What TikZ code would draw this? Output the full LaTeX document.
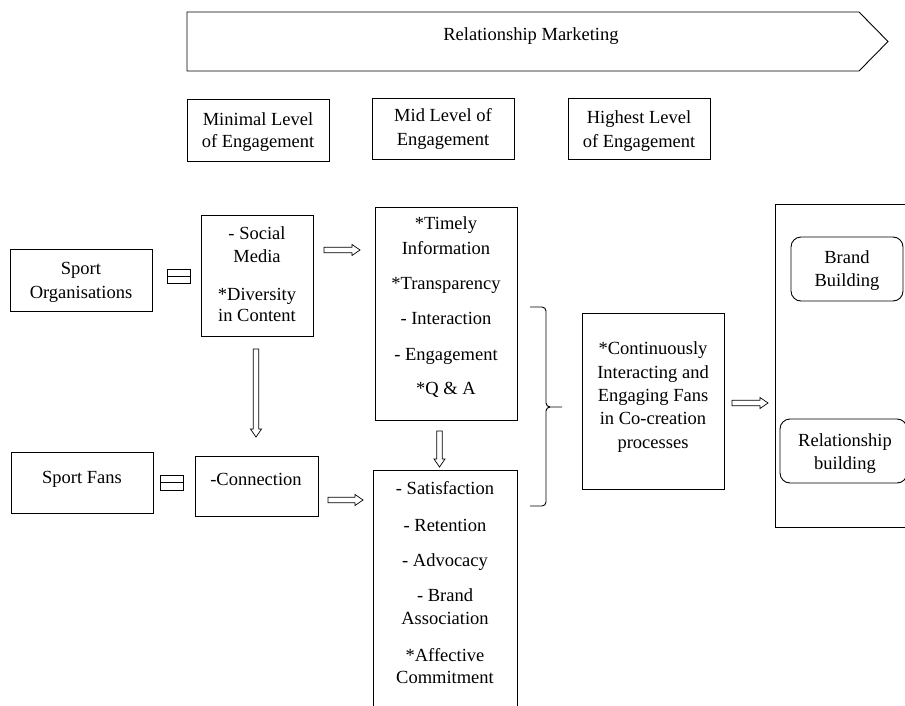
\documentclass[tikz,border=0pt]{standalone}
\usepackage{fontspec}
\setmainfont{Liberation Serif}
\usetikzlibrary{calc}
\tikzset{
  boxstyle/.style={draw, line width=0.9pt, inner sep=0pt, rectangle},
  roundbox/.style={draw, line width=0.9pt, inner sep=0pt, rectangle, rounded corners=10pt},
  linestyle/.style={line width=0.9pt},
  arrowline/.style={line width=0.7pt, line join=miter},
  txt/.style={anchor=base, inner sep=0pt, font=\fontsize{18.5}{22}\selectfont}
}
\newcommand{\blockR}[2]{\draw[arrowline] let \p1=(#1), \p2=(#2) in
  (\x1,{\y1+2.8pt}) -- ({\x2-8pt},{\y1+2.8pt}) -- ({\x2-8pt},{\y1+5.5pt}) -- (\x2,\y1)
  -- ({\x2-8pt},{\y1-5.5pt}) -- ({\x2-8pt},{\y1-2.8pt}) -- (\x1,{\y1-2.8pt}) -- cycle;}
\newcommand{\blockD}[2]{\draw[arrowline] let \p1=(#1), \p2=(#2) in
  ({\x1-2.8pt},\y1) -- ({\x1-2.8pt},{\y2+8pt}) -- ({\x1-5.5pt},{\y2+8pt}) -- (\x1,\y2)
  -- ({\x1+5.5pt},{\y2+8pt}) -- ({\x1+2.8pt},{\y2+8pt}) -- ({\x1+2.8pt},\y1) -- cycle;}
\begin{document}
\begin{tikzpicture}[x=1pt,y=-1pt]
\useasboundingbox (0,0) rectangle (905,706);
\clip (0,0) rectangle (905,706);

% banner
\draw[linestyle] (187,12) -- (859,12) -- (888,41.5) -- (859,71) -- (187,71) -- cycle;
\coordinate (banner) at (537,41.5);
\node[txt] (tRM) at (531,41) {Relationship Marketing};

% level boxes
\node[boxstyle, minimum width=142, minimum height=62] (lvl1) at (258,130) {};
\node[txt] (tl1a) at (258,126) {Minimal Level};
\node[txt] (tl1b) at (258,148) {of Engagement};
\node[boxstyle, minimum width=142, minimum height=61] (lvl2) at (443,128.5) {};
\node[txt] (tl2a) at (443,122) {Mid Level of};
\node[txt] (tl2b) at (443,146) {Engagement};
\node[boxstyle, minimum width=142, minimum height=61] (lvl3) at (639,128.5) {};
\node[txt] (tl3a) at (639,124) {Highest Level};
\node[txt] (tl3b) at (639,148) {of Engagement};

% left boxes
\node[boxstyle, minimum width=142, minimum height=62] (org) at (81,280) {};
\node[txt] (torga) at (81,274) {Sport};
\node[txt] (torgb) at (81,298) {Organisations};
\node[boxstyle, minimum width=142, minimum height=61] (fans) at (82,482.5) {};
\node[txt] (tfans) at (82,483) {Sport Fans};

% equal signs
\draw[arrowline] (167,269) rectangle (190,276);
\draw[arrowline] (167,276.5) rectangle (190,283);
\draw[arrowline] (160,475) rectangle (183,482);
\draw[arrowline] (160,482.5) rectangle (183,490);

% social media box
\node[boxstyle, minimum width=112, minimum height=121] (social) at (257,275.5) {};
\node[txt] (ts1) at (257,239) {- Social};
\node[txt] (ts2) at (257,262) {Media};
\node[txt] (ts3) at (257,300) {*Diversity};
\node[txt] (ts4) at (257,321) {in Content};

% connection box
\node[boxstyle, minimum width=123, minimum height=60] (conn) at (256.5,486) {};
\node[txt] (tconn) at (256,485) {-Connection};

% timely box
\node[boxstyle, minimum width=142, minimum height=213] (timely) at (446,313.5) {};
\node[txt] (tt1) at (446,229) {*Timely};
\node[txt] (tt2) at (446,254) {Information};
\node[txt] (tt3) at (446,289) {*Transparency};
\node[txt] (tt4) at (446,324) {- Interaction};
\node[txt] (tt5) at (446,360) {- Engagement};
\node[txt] (tt6) at (446,394) {*Q \& A};

% satisfaction box (runs past the lower edge)
\node[boxstyle, minimum width=144, minimum height=260] (satis) at (445,600) {};
\node[txt] (tsa1) at (445,494) {- Satisfaction};
\node[txt] (tsa2) at (445,531) {- Retention};
\node[txt] (tsa3) at (445,566) {- Advocacy};
\node[txt] (tsa4) at (445,601) {- Brand};
\node[txt] (tsa5) at (445,624) {Association};
\node[txt] (tsa6) at (445,661) {*Affective};
\node[txt] (tsa7) at (445,683) {Commitment};

% co-creation box
\node[boxstyle, minimum width=142, minimum height=176] (cocr) at (653,401) {};
\node[txt] (tc1) at (653,354) {*Continuously};
\node[txt] (tc2) at (653,378) {Interacting and};
\node[txt] (tc3) at (653,401) {Engaging Fans};
\node[txt] (tc4) at (653,424) {in Co-creation};
\node[txt] (tc5) at (653,448) {processes};

% right box (runs past the right edge)
\node[boxstyle, minimum width=145, minimum height=323] (outcome) at (847.5,365.5) {};
\node[roundbox, minimum width=112, minimum height=64] (brand) at (847,269) {};
\node[txt] (tb1) at (847,263) {Brand};
\node[txt] (tb2) at (847,286) {Building};
\node[roundbox, minimum width=127, minimum height=64] (relb) at (843.5,451) {};
\node[txt] (tr1) at (845,446) {Relationship};
\node[txt] (tr2) at (845,469) {building};

% brace
\draw[linestyle] (530,307) -- (542,307) to[out=0,in=90] (546,311) -- (546,403)
  to[out=-90,in=180] (550,407) -- (562,407);
\draw[linestyle] (550,407) to[out=180,in=90] (546,411) -- (546,502)
  to[out=-90,in=0] (542,506) -- (530,506);

% block arrows
\coordinate (a1s) at (324,250); \coordinate (a1e) at (360,250);
\coordinate (a2s) at (256,349); \coordinate (a2e) at (256,437);
\coordinate (a3s) at (439.5,431); \coordinate (a3e) at (439.5,467);
\coordinate (a4s) at (328,500); \coordinate (a4e) at (363,500);
\coordinate (a5s) at (732,403); \coordinate (a5e) at (768,403);
\blockR{a1s}{a1e}
\blockD{a2s}{a2e}
\blockD{a3s}{a3e}
\blockR{a4s}{a4e}
\blockR{a5s}{a5e}
\end{tikzpicture}
\end{document}
